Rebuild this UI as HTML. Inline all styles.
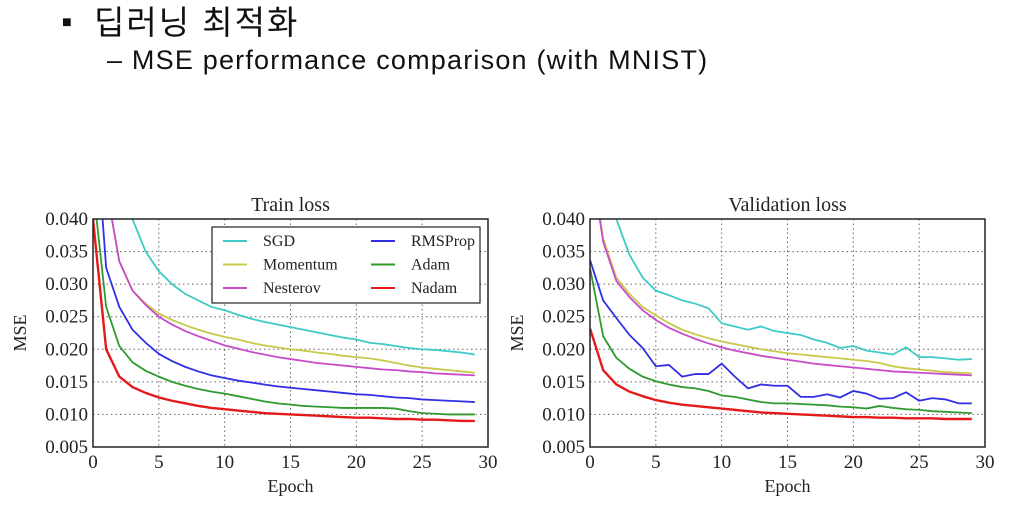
<!DOCTYPE html>
<html><head><meta charset="utf-8">
<style>
html,body{margin:0;padding:0;background:#fff;width:1009px;height:509px;overflow:hidden}
.h{position:absolute;font-family:"Liberation Sans","Noto Sans CJK KR",sans-serif;color:#111}
</style></head><body>
<div class="h" style="left:62px;top:-4px;font-size:33px;letter-spacing:2px"><span style="font-size:16px;position:relative;top:-7px;letter-spacing:0">■</span>&nbsp; 딥러닝 최적화</div>
<div class="h" style="left:107px;top:45px;font-size:27px;letter-spacing:1.2px">– MSE performance comparison (with MNIST)</div>
<svg id="svg" width="1009" height="509" style="position:absolute;left:0;top:0" font-family="Liberation Serif, serif"></svg>
<script>
const epochs=[...Array(30).keys()];
const seriesNames=["SGD","Momentum","Nesterov","RMSProp","Adam","Nadam"];
const seriesColors=["#3fc9c9","#c8c84a","#c84cc8","#2f2fe6","#2f9a2f","#e41a1a"];
const xTicks=[0,5,10,15,20,25,30];
const yTicks=[0.005,0.010,0.015,0.020,0.025,0.030,0.035,0.040];
const trainSGD=[0.08,0.06,0.047,0.040,0.035,0.032,0.030,0.0285,0.0275,0.0265,0.026,0.0253,0.0247,0.0242,0.0238,0.0234,0.023,0.0226,0.0222,0.0218,0.0215,0.021,0.0208,0.0205,0.0202,0.020,0.0199,0.0197,0.0195,0.0192];
const trainMomentum=[0.08,0.045,0.0335,0.029,0.027,0.0255,0.0245,0.0237,0.023,0.0224,0.0219,0.0215,0.021,0.0206,0.0203,0.020,0.0198,0.0195,0.0193,0.019,0.0188,0.0186,0.0183,0.0179,0.0175,0.0172,0.017,0.0168,0.0166,0.0164];
const trainNesterov=[0.08,0.045,0.0335,0.029,0.0268,0.025,0.0238,0.0228,0.022,0.0213,0.0206,0.0201,0.0196,0.0192,0.0188,0.0185,0.0182,0.0179,0.0177,0.0175,0.0173,0.0171,0.0169,0.0168,0.0166,0.0165,0.0163,0.0162,0.0161,0.016];
const trainRMSProp=[0.06,0.0325,0.0265,0.023,0.021,0.0193,0.0182,0.0173,0.0166,0.016,0.0156,0.0152,0.0149,0.0146,0.0143,0.0141,0.0139,0.0137,0.0135,0.0133,0.0131,0.013,0.0128,0.0126,0.0125,0.0123,0.0122,0.0121,0.012,0.0119];
const trainAdam=[0.045,0.0265,0.0205,0.018,0.0167,0.0158,0.015,0.0144,0.0139,0.0135,0.0132,0.0128,0.0124,0.012,0.0117,0.0115,0.0113,0.0112,0.0111,0.011,0.011,0.011,0.011,0.0109,0.0105,0.0102,0.0101,0.01,0.01,0.01];
const trainNadam=[0.040,0.020,0.0158,0.0142,0.0133,0.0126,0.0121,0.0117,0.0113,0.011,0.0108,0.0106,0.0104,0.0102,0.0101,0.01,0.0099,0.0098,0.0097,0.0096,0.0095,0.0095,0.0094,0.0093,0.0093,0.0092,0.0092,0.0091,0.009,0.009];
const valSGD=[0.06,0.045,0.04,0.0345,0.031,0.029,0.0283,0.0275,0.027,0.0263,0.024,0.0235,0.023,0.0235,0.0228,0.0225,0.0222,0.0215,0.021,0.0202,0.0205,0.0198,0.0195,0.0192,0.0203,0.0188,0.0188,0.0186,0.0184,0.0185];
const valMomentum=[0.05,0.037,0.031,0.0285,0.0265,0.0252,0.024,0.023,0.0223,0.0217,0.0212,0.0208,0.0204,0.02,0.0197,0.0194,0.0192,0.019,0.0188,0.0186,0.0184,0.0182,0.0179,0.0174,0.0171,0.0169,0.0167,0.0165,0.0164,0.0163];
const valNesterov=[0.05,0.0365,0.0305,0.028,0.026,0.0245,0.0233,0.0224,0.0216,0.0209,0.0203,0.0198,0.0194,0.019,0.0187,0.0184,0.0181,0.0178,0.0176,0.0174,0.0172,0.017,0.0168,0.0166,0.0165,0.0164,0.0163,0.0162,0.0161,0.016];
const valRMSProp=[0.0337,0.0275,0.0248,0.0222,0.0202,0.0174,0.0176,0.0158,0.0162,0.0162,0.0178,0.0158,0.014,0.0146,0.0144,0.0144,0.0127,0.0127,0.0131,0.0126,0.0136,0.0132,0.0124,0.0125,0.0134,0.0121,0.0125,0.0123,0.0117,0.0117];
const valAdam=[0.0325,0.022,0.0187,0.017,0.0158,0.0151,0.0146,0.0142,0.014,0.0136,0.0129,0.0127,0.0123,0.0119,0.0117,0.0117,0.0116,0.0115,0.0114,0.0112,0.0111,0.0109,0.0113,0.011,0.0108,0.0107,0.0105,0.0104,0.0103,0.0102];
const valNadam=[0.0232,0.0168,0.0146,0.0135,0.0128,0.0122,0.0118,0.0115,0.0113,0.0111,0.0109,0.0107,0.0105,0.0103,0.0102,0.0101,0.01,0.0099,0.0098,0.0097,0.0096,0.0096,0.0095,0.0095,0.0094,0.0094,0.0094,0.0093,0.0093,0.0093];

const NS="http://www.w3.org/2000/svg";
const svg=document.getElementById('svg');
function mk(tag,attrs,parent){const e=document.createElementNS(NS,tag);for(const k in attrs)e.setAttribute(k,attrs[k]);(parent||svg).appendChild(e);return e;}

function chart(id,x0,title,data,legend){
  const x1=x0+395,yT=219,yB=447;
  const X=v=>x0+(v-0)/30*(x1-x0);
  const Y=v=>yB-(v-0.005)/0.035*(yB-yT);
  const g=mk('g',{});
  
  
  const cp=mk('clipPath',{id:'c'+id},g);mk('rect',{x:x0,y:yT,width:x1-x0,height:yB-yT},cp);
  xTicks.forEach(t=>{
    if(t>0&&t<30){const l=mk('line',{x1:X(t),x2:X(t),y1:yT,y2:yB,stroke:'#666','stroke-dasharray':'1.5,3','stroke-width':1},g);
    }
    const tx=mk('text',{x:X(t),y:468,'text-anchor':'middle','font-size':19,fill:'#222'},g);tx.textContent=t;
    
  });
  yTicks.forEach(t=>{
    if(t>0.0051&&t<0.0399){const l=mk('line',{x1:x0,x2:x1,y1:Y(t),y2:Y(t),stroke:'#666','stroke-dasharray':'1.5,3','stroke-width':1},g);
    }
    const tx=mk('text',{x:x0-5,y:Y(t)+6,'text-anchor':'end','font-size':19,fill:'#222'},g);tx.textContent=t.toFixed(3);
    
  });
  data.forEach((arr,i)=>{
    const p=mk('polyline',{points:epochs.map(e=>X(e)+','+Y(arr[e])).join(' '),fill:'none',stroke:seriesColors[i],'stroke-width':i==5?2.4:1.8,'clip-path':'url(#c'+id+')'},g);
    
    
  });
  const fr=mk('rect',{x:x0,y:yT,width:x1-x0,height:yB-yT,fill:'none',stroke:'#222','stroke-width':1.5},g);
  
  const tt=mk('text',{x:(x0+x1)/2,y:211,'text-anchor':'middle','font-size':20,fill:'#222'},g);tt.textContent=title;
  
  const xl=mk('text',{x:(x0+x1)/2,y:492,'text-anchor':'middle','font-size':18,fill:'#222'},g);xl.textContent='Epoch';
  
  const yl=mk('text',{x:0,y:0,'text-anchor':'middle','font-size':18,fill:'#222',transform:'translate('+(x0-67)+',333) rotate(-90)'},g);yl.textContent='MSE';
  
  if(legend){
    const lg=mk('g',{},g);
    
    mk('rect',{x:212,y:227,width:268,height:76,fill:'#fff',stroke:'#222','stroke-width':1.2},lg);
    seriesNames.forEach((n,i)=>{
      const cx=i<3?223:371,cy=241+(i%3)*23.5;
      const e=mk('g',{},lg);
      
      mk('line',{x1:cx,x2:cx+24,y1:cy,y2:cy,stroke:seriesColors[i],'stroke-width':2},e);
      const t=mk('text',{x:cx+40,y:cy+5,'font-size':16,fill:'#222'},e);t.textContent=n;
    });
  }
}
chart('train',93,'Train loss',[trainSGD,trainMomentum,trainNesterov,trainRMSProp,trainAdam,trainNadam],true);
chart('validation',590,'Validation loss',[valSGD,valMomentum,valNesterov,valRMSProp,valAdam,valNadam],false);
</script>
</body></html>
